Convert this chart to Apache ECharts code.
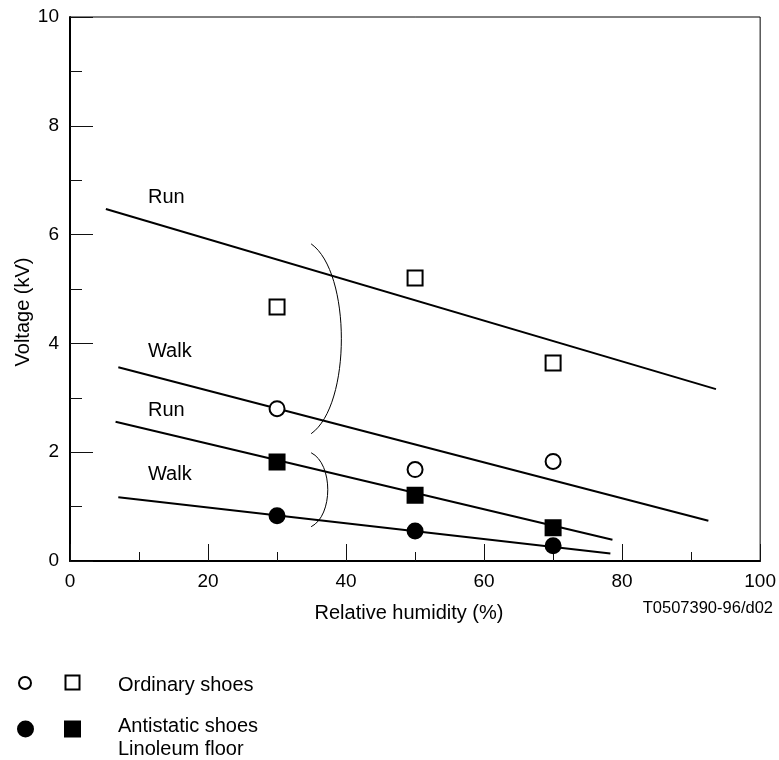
<!DOCTYPE html>
<html>
<head>
<meta charset="utf-8">
<script src="https://cdn.jsdelivr.net/npm/echarts@6/dist/echarts.min.js"></script>
<style>
html,body{margin:0;padding:0;background:#fff;}
#chart{width:779px;height:760px;}
</style>
</head>
<body>
<div id="chart"></div>
<script>
// ---- data ----
const humidity = [30, 50, 70];
const ordinaryRun = [4.67, 5.20, 3.64];
const ordinaryWalk = [2.80, 1.68, 1.83];
const antistaticRun = [1.82, 1.21, 0.61];
const antistaticWalk = [0.83, 0.55, 0.28];

// fitted trend lines (start / end points)
const runOrdinaryLine = [[5.2, 6.47], [93.6, 3.16]];
const walkOrdinaryLine = [[7.0, 3.56], [92.5, 0.74]];
const runAntistaticLine = [[6.6, 2.56], [78.6, 0.39]];
const walkAntistaticLine = [[7.0, 1.17], [78.3, 0.14]];

// line labels
const lineLabels = [
  ['Run', 11.3, 6.69],
  ['Walk', 11.3, 3.86],
  ['Run', 11.3, 2.77],
  ['Walk', 11.3, 1.59]
];

// brackets: [x at tips, y top, x at bulge, y bottom]
const brackets = [
  [34.94, 5.83, 39.32, 2.34],
  [34.94, 1.99, 37.35, 0.63]
];

const xTicks = [0, 20, 40, 60, 80, 100];
const yTicks = [0, 2, 4, 6, 8, 10];

const FONT = 'Liberation Sans, Arial, Helvetica, sans-serif';

function pairs(xs, ys) { return xs.map((x, i) => [x, ys[i]]); }

const chart = echarts.init(document.getElementById('chart'), null, {renderer: 'canvas'});

const lineSeries = (data) => ({
  type: 'line',
  data: data,
  symbol: 'none',
  lineStyle: {color: '#000', width: 2},
  z: 2,
  silent: true
});

const pointSeries = (data, symbol, filled) => ({
  type: 'scatter',
  data: data,
  symbol: symbol,
  symbolSize: 15,
  itemStyle: {
    color: filled ? '#000' : '#fff',
    borderColor: '#000',
    borderWidth: 2,
    opacity: 1
  },
  z: 5,
  silent: true
});

const option = {
  animation: false,
  backgroundColor: '#fff',
  textStyle: {fontFamily: FONT},
  grid: {
    left: 70, top: 17, right: 16, bottom: 199,
    show: true, borderColor: '#000', borderWidth: 1, backgroundColor: 'transparent'
  },
  xAxis: {
    type: 'value',
    min: xTicks[0], max: xTicks[xTicks.length - 1], interval: 20,
    axisLine: {lineStyle: {color: '#000', width: 2}},
    axisTick: {inside: true, length: 17, lineStyle: {color: '#111', width: 1}},
    minorTick: {show: true, splitNumber: 2, length: 9, lineStyle: {color: '#111', width: 1}},
    splitLine: {show: false},
    axisLabel: {color: '#000', fontSize: 19, fontFamily: FONT, margin: 11}
  },
  yAxis: {
    type: 'value',
    min: yTicks[0], max: yTicks[yTicks.length - 1], interval: 2,
    axisLine: {show: true, lineStyle: {color: '#000', width: 2}},
    axisTick: {show: true, inside: true, length: 23, lineStyle: {color: '#111', width: 1}},
    minorTick: {show: true, splitNumber: 2, length: 12, lineStyle: {color: '#111', width: 1}},
    splitLine: {show: false},
    axisLabel: {color: '#000', fontSize: 19, fontFamily: FONT, margin: 11}
  },
  series: [
    lineSeries(runOrdinaryLine),
    lineSeries(walkOrdinaryLine),
    lineSeries(runAntistaticLine),
    lineSeries(walkAntistaticLine),
    pointSeries(pairs(humidity, ordinaryRun), 'rect', false),
    pointSeries(pairs(humidity, ordinaryWalk), 'circle', false),
    pointSeries(pairs(humidity, antistaticRun), 'rect', true),
    pointSeries(pairs(humidity, antistaticWalk), 'circle', true),
    {
      type: 'scatter',
      symbolSize: 0,
      silent: true,
      itemStyle: {opacity: 1, color: '#000'},
      data: lineLabels.map(l => ({name: l[0], value: [l[1], l[2]]})),
      label: {
        show: true, position: 'right', distance: 0,
        formatter: p => p.name,
        color: '#000', opacity: 1, fontSize: 20, fontFamily: FONT
      },
      z: 6
    },
    {
      type: 'custom',
      silent: true,
      data: brackets,
      encode: {x: [0, 2], y: [1, 3]},
      renderItem: function (params, api) {
        const p0 = api.coord([api.value(0), api.value(1)]);
        const p2 = api.coord([api.value(0), api.value(3)]);
        const pm = api.coord([api.value(2), (api.value(1) + api.value(3)) / 2]);
        const d = pm[0] - p0[0];
        const h = p2[1] - p0[1];
        const cx = p0[0] + d * 4 / 3;
        return {
          type: 'bezierCurve',
          shape: {
            x1: p0[0], y1: p0[1], x2: p2[0], y2: p2[1],
            cpx1: cx, cpy1: p0[1] + 0.15 * h,
            cpx2: cx, cpy2: p2[1] - 0.15 * h
          },
          style: {stroke: '#000', lineWidth: 1, fill: null}
        };
      },
      z: 4
    }
  ],
  graphic: [
    {
      type: 'text', x: 23, y: 312, rotation: Math.PI / 2,
      style: {text: 'Voltage (kV)', font: '20px ' + FONT, fill: '#000', align: 'center', verticalAlign: 'middle'}
    },
    {
      type: 'text', x: 409, y: 613,
      style: {text: 'Relative humidity (%)', font: '20px ' + FONT, fill: '#000', align: 'center', verticalAlign: 'middle'}
    },
    {
      type: 'text', x: 773, y: 608,
      style: {text: 'T0507390-96/d02', font: '16.5px ' + FONT, fill: '#000', align: 'right', verticalAlign: 'middle'}
    },
    // legend
    {type: 'circle', shape: {cx: 25, cy: 683, r: 6}, style: {fill: '#fff', stroke: '#000', lineWidth: 2}},
    {type: 'rect', shape: {x: 65.5, y: 675.5, width: 14, height: 14}, style: {fill: '#fff', stroke: '#000', lineWidth: 2}},
    {type: 'text', x: 118, y: 685, style: {text: 'Ordinary shoes', font: '20px ' + FONT, fill: '#000', align: 'left', verticalAlign: 'middle'}},
    {type: 'circle', shape: {cx: 25.5, cy: 729, r: 8.5}, style: {fill: '#000'}},
    {type: 'rect', shape: {x: 64, y: 720.5, width: 17, height: 17}, style: {fill: '#000'}},
    {type: 'text', x: 118, y: 726, style: {text: 'Antistatic shoes', font: '20px ' + FONT, fill: '#000', align: 'left', verticalAlign: 'middle'}},
    {type: 'text', x: 118, y: 749, style: {text: 'Linoleum floor', font: '20px ' + FONT, fill: '#000', align: 'left', verticalAlign: 'middle'}}
  ]
};

chart.setOption(option);
</script>
</body>
</html>
